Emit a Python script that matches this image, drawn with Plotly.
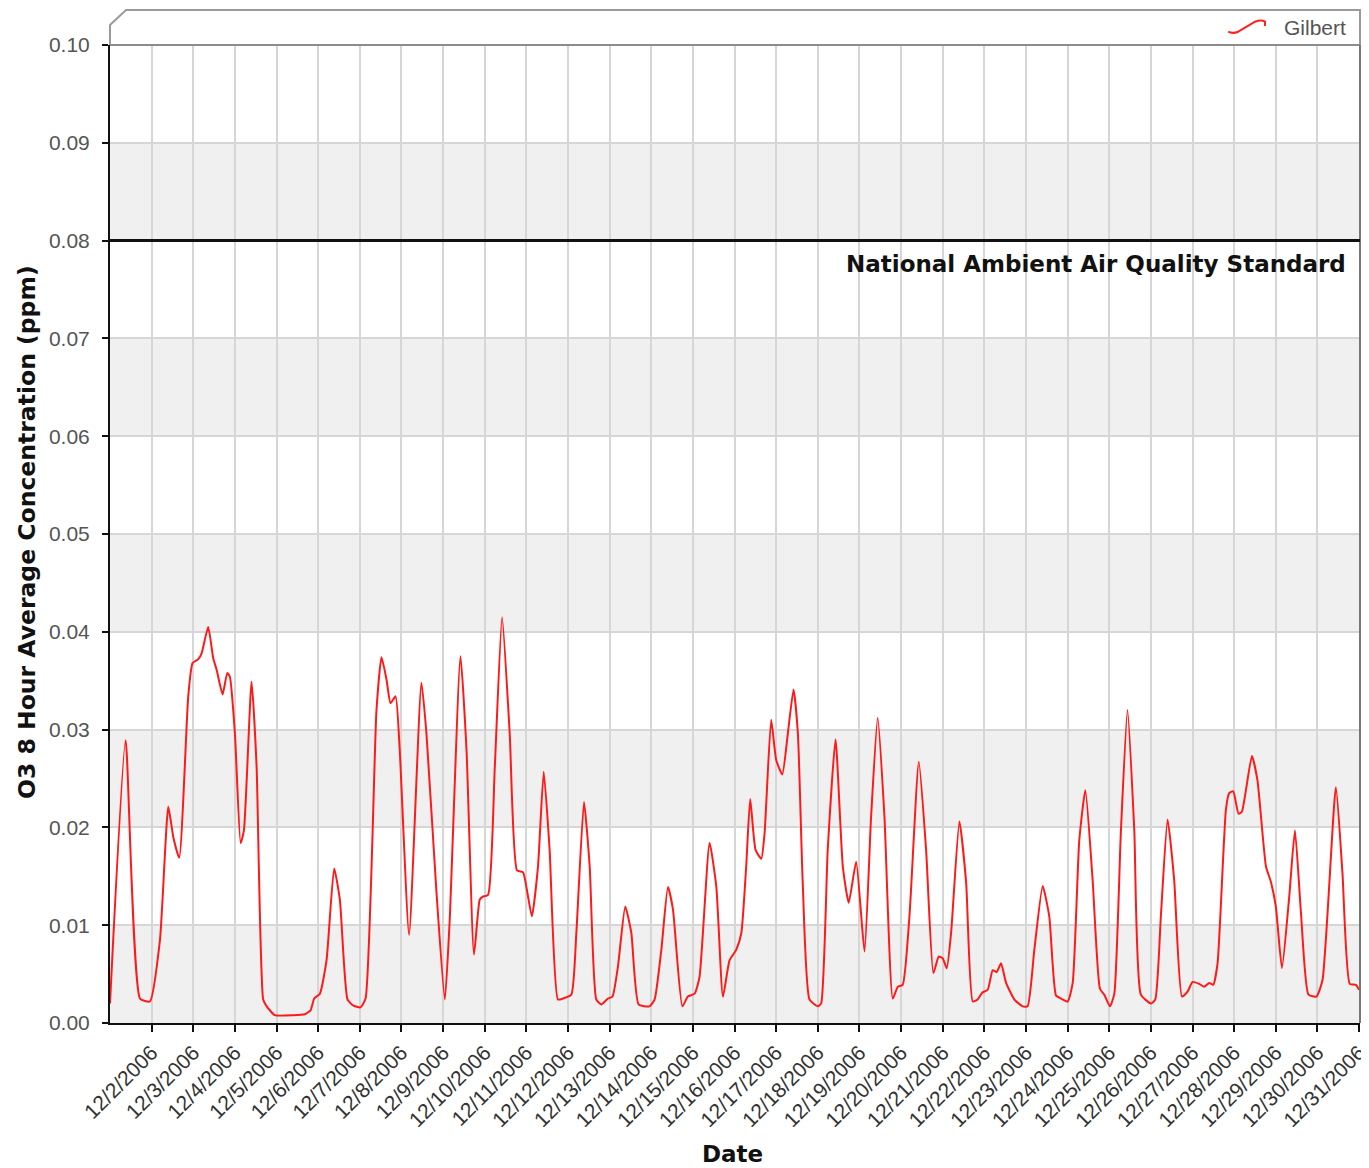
import pandas as pd
import plotly.graph_objects as go

# O3 8-hour average, Gilbert site, December 2006
# hours after 12/1/2006 00:00 and concentration (ppm)
hours = [0, 9.0, 17.3, 23.0, 28.8, 33.6, 36.5, 39.9, 45.1, 47.6, 50.9, 52.8, 56.6, 59.5,
         61.5, 64.9, 67.6, 69.1, 72.0, 75.3, 77.2, 81.6, 84.5, 88.3, 90.3, 95.0, 105.6,
         112.3, 115.6, 117.7, 121.0, 124.8, 129.2, 132.5, 136.9, 140.1, 144.4, 147.3,
         153.6, 156.5, 159.4, 161.7, 164.6, 167.0, 172.4, 179.5, 182.4, 188.2, 193.0,
         195.8, 202.0, 205.5, 209.8, 213.1, 214.7, 217.9, 221.8, 226.0, 230.4, 234.6,
         238.1, 240.6, 243.2, 246.7, 250.0, 253.4, 258.2, 261.1, 265.9, 268.8, 273.2,
         276.5, 280.3, 283.2, 287.0, 289.6, 292.8, 297.0, 300.5, 304.7, 311.0, 313.9,
         317.8, 321.6, 324.5, 329.9, 333.1, 337.0, 339.8, 345.6, 349.5, 353.3, 357.1,
         361.0, 363.9, 366.7, 369.0, 372.1, 375.4, 377.3, 381.1, 384.0, 387.5, 390.7,
         394.0, 396.5, 399.3, 403.2, 408.0, 409.9, 413.7, 418.2, 422.4, 425.8, 430.1,
         434.9, 438.7, 442.5, 446.4, 451.2, 454.1, 456.9, 460.8, 466.2, 470.4, 474.6,
         477.7, 480.0, 482.3, 484.8, 489.6, 493.5, 497.3, 500.1, 502.7, 505.9, 508.8,
         511.1, 513.6, 516.5, 521.3, 526.1, 528.9, 532.8, 537.6, 541.4, 545.3, 548.2,
         552.0, 554.9, 558.7, 562.2, 566.4, 570.6, 573.1, 576.4, 578.9, 582.7, 586.5,
         590.4, 594.2, 600.0, 602.5, 605.8, 609.6, 613.4, 617.9, 621.1, 624.0, 627.8,
         630.7, 633.6, 635.9, 638.4, 643.2, 645.1, 647.4, 650.5, 652.4, 658.2, 661.4,
         666.3, 669.2, 672.0, 675.5, 679.7, 683.0, 686.5, 690.8, 695.4, 698.9, 706.6,
         710.4, 714.6, 718.1, 720.0]
o3 = [0.0020, 0.0289, 0.0025, 0.0022, 0.0085, 0.0221, 0.0190, 0.0169, 0.0334, 0.0368,
      0.0372, 0.0378, 0.0405, 0.0373, 0.0361, 0.0336, 0.0358, 0.0354, 0.0296, 0.0184,
      0.0197, 0.0349, 0.0262, 0.0024, 0.0017, 0.0008, 0.0008, 0.0009, 0.0013, 0.0025,
      0.0030, 0.0064, 0.0158, 0.0126, 0.0024, 0.0018, 0.0016, 0.0025, 0.0320, 0.0374,
      0.0351, 0.0327, 0.0334, 0.0279, 0.0090, 0.0348, 0.0296, 0.0133, 0.0024, 0.0105,
      0.0375, 0.0279, 0.0070, 0.0126, 0.0129, 0.0131, 0.0262, 0.0415, 0.0296, 0.0156,
      0.0154, 0.0133, 0.0109, 0.0160, 0.0257, 0.0177, 0.0024, 0.0025, 0.0029, 0.0092,
      0.0226, 0.0160, 0.0024, 0.0019, 0.0025, 0.0027, 0.0058, 0.0119, 0.0092, 0.0019,
      0.0017, 0.0024, 0.0075, 0.0139, 0.0116, 0.0017, 0.0027, 0.0030, 0.0047, 0.0184,
      0.0139, 0.0027, 0.0064, 0.0075, 0.0092, 0.0160, 0.0229, 0.0177, 0.0168, 0.0194,
      0.0310, 0.0269, 0.0254, 0.0296, 0.0341, 0.0296, 0.0143, 0.0024, 0.0017, 0.0020,
      0.0177, 0.0290, 0.0160, 0.0123, 0.0165, 0.0073, 0.0211, 0.0312, 0.0211, 0.0025,
      0.0037, 0.0039, 0.0109, 0.0267, 0.0177, 0.0051, 0.0068, 0.0066, 0.0056, 0.0092,
      0.0206, 0.0143, 0.0022, 0.0024, 0.0031, 0.0034, 0.0054, 0.0052, 0.0061, 0.0041,
      0.0024, 0.0017, 0.0017, 0.0075, 0.0140, 0.0109, 0.0028, 0.0025, 0.0022, 0.0041,
      0.0187, 0.0238, 0.0146, 0.0035, 0.0029, 0.0017, 0.0030, 0.0197, 0.0320, 0.0197,
      0.0029, 0.0020, 0.0024, 0.0112, 0.0208, 0.0146, 0.0027, 0.0032, 0.0042, 0.0040,
      0.0037, 0.0041, 0.0039, 0.0061, 0.0218, 0.0235, 0.0237, 0.0214, 0.0216, 0.0273,
      0.0248, 0.0160, 0.0144, 0.0119, 0.0056, 0.0129, 0.0197, 0.0112, 0.0029, 0.0027,
      0.0044, 0.0241, 0.0153, 0.0040, 0.0039, 0.0034]

naaqs = 0.08
y_ticks = [0.00, 0.01, 0.02, 0.03, 0.04, 0.05, 0.06, 0.07, 0.08, 0.09, 0.10]
day_ticks = pd.date_range("2006-12-02", "2006-12-31", freq="D")
tick_text = [f"{d.month}/{d.day}/{d.year}" for d in day_ticks]

dates = pd.Timestamp("2006-12-01") + pd.to_timedelta(hours, unit="h")

font = "Liberation Sans, Arial, sans-serif"
bold_font = "DejaVu Sans, Verdana, sans-serif"

fig = go.Figure()
fig.add_trace(go.Scatter(x=dates, y=o3, mode="lines", name="Gilbert", showlegend=False,
                         line=dict(color="#ff1a1a", width=2, shape="spline", smoothing=0.5)))

shapes = []
# alternating grey bands
for lo in y_ticks[:-1:2]:
    shapes.append(dict(type="rect", xref="paper", yref="y", x0=0, x1=1, y0=lo, y1=lo + 0.01,
                       fillcolor="#f0f0f0", line_width=0, layer="below"))
# header frame with bevelled corner
shapes.append(dict(type="path", xref="paper", yref="paper",
                   path="M 0,1 L 0,1.0204 L 0.0128,1.0358 L 1,1.0358 L 1,1",
                   line=dict(color="#9a9a9a", width=2), fillcolor="rgba(0,0,0,0)"))
shapes.append(dict(type="line", xref="paper", yref="paper", x0=0, x1=1, y0=1, y1=1,
                   line=dict(color="#8c8c8c", width=2)))
shapes.append(dict(type="line", xref="paper", yref="paper", x0=1, x1=1, y0=0, y1=1,
                   line=dict(color="#777777", width=2)))
# standard line
shapes.append(dict(type="line", xref="paper", yref="y", x0=0, x1=1, y0=naaqs, y1=naaqs,
                   line=dict(color="#111111", width=3)))
# legend glyph (squiggle)
shapes.append(dict(type="path", xref="paper", yref="paper",
                   path="M 0.8946,1.0136 Q 0.8980,1.0112 0.9026,1.0136 L 0.9094,1.0187 "
                        "L 0.9160,1.0238 Q 0.9210,1.0262 0.9240,1.0240 L 0.9240,1.0194",
                   line=dict(color="#ff2020", width=2), fillcolor="rgba(0,0,0,0)"))

# page body has an 8px margin, so the figure is shrunk and margins trimmed by 8px
fig.update_layout(
    width=1361, height=1160,
    margin=dict(l=102, r=9, t=37, b=145),
    paper_bgcolor="white", plot_bgcolor="white",
    shapes=shapes,
    showlegend=False,
    xaxis=dict(type="date", range=["2006-12-01", "2006-12-31 00:30"],
               tickvals=day_ticks, ticktext=tick_text, tickangle=-45,
               tickfont=dict(family=font, size=21, color="#333333"),
               showgrid=True, gridcolor="#d6d6d6", gridwidth=2,
               showline=True, linecolor="#111111", linewidth=2,
               ticks="outside", ticklen=7, tickcolor="#111111", tickwidth=2,
               ticklabeloverflow="allow",
               zeroline=False, automargin=False),
    yaxis=dict(range=[0, 0.1], tickvals=y_ticks, tickformat=".2f",
               tickfont=dict(family=font, size=21, color="#555555"),
               showgrid=True, gridcolor="#d6d6d6", gridwidth=2,
               showline=True, linecolor="#111111", linewidth=2,
               ticks="outside", ticklen=6, tickcolor="#111111", tickwidth=2,
               ticklabelstandoff=8,
               zeroline=False, automargin=False),
    annotations=[
        dict(text="Gilbert", xref="paper", yref="paper", x=0.9376, y=1.0184,
             xanchor="left", yanchor="middle", showarrow=False,
             font=dict(family=font, size=21, color="#555555")),
        dict(text="National Ambient Air Quality Standard", xref="paper", yref="y",
             x=0.9904, y=0.0776, xanchor="right", yanchor="middle", showarrow=False,
             font=dict(family=bold_font, size=23, color="#111111", weight="bold")),
        dict(text="O3 8 Hour Average Concentration (ppm)", xref="paper", yref="paper",
             x=-0.0664, y=0.502, xanchor="center", yanchor="middle", textangle=-90,
             showarrow=False,
             font=dict(family=bold_font, size=23.5, color="#111111", weight="bold")),
        dict(text="Date", xref="paper", yref="paper", x=0.498, y=-0.134,
             xanchor="center", yanchor="middle", showarrow=False,
             font=dict(family=bold_font, size=23, color="#111111", weight="bold")),
    ],
)

fig.write_html("out.html")
